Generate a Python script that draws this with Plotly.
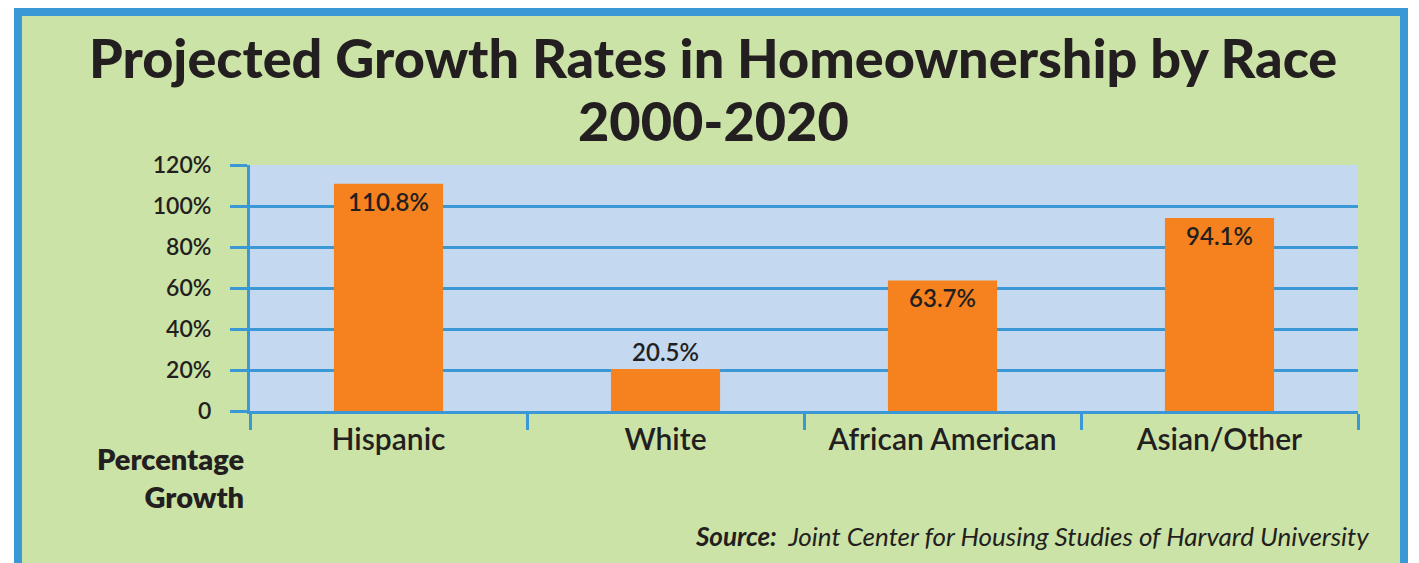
import plotly.graph_objects as go

# ---- data ----
categories = ["Hispanic", "White", "African American", "Asian/Other"]
growth = [110.8, 20.5, 63.7, 94.1]
value_labels = ["110.8%", "20.5%", "63.7%", "94.1%"]
label_positions = ["inside", "outside", "inside", "inside"]
y_tick_values = [0, 20, 40, 60, 80, 100, 120]
y_tick_labels = ["0", "20%", "40%", "60%", "80%", "100%", "120%"]

# ---- layout geometry (pixels) ----
W, H = 1419, 563
L, R, T, B = 250, 1358, 165, 411

BLUE = "#3A98D6"
GREEN = "#CCE3A7"
PLOT_BG = "#C4D8EF"
ORANGE = "#F5821F"
TEXT = "#231F20"
FONT = "Lato"


def px_x(px):
    return (px - L) / (R - L)


def px_y(py):
    return (B - py) / (B - T)


fig = go.Figure()
fig.add_trace(go.Bar(
    x=categories,
    y=growth,
    text=value_labels,
    textposition=label_positions,
    insidetextanchor="end",
    textfont=dict(family=FONT, size=24, color=TEXT, weight=600),
    marker=dict(color=ORANGE, line=dict(width=0)),
    cliponaxis=False,
    hoverinfo="skip",
))

shapes = [
    dict(type="rect", xref="paper", yref="paper", layer="below",
         x0=px_x(14), x1=px_x(1408), y0=px_y(620), y1=px_y(8),
         fillcolor=BLUE, line=dict(width=0)),
    dict(type="rect", xref="paper", yref="paper", layer="below",
         x0=px_x(22), x1=px_x(1400), y0=px_y(620), y1=px_y(16),
         fillcolor=GREEN, line=dict(width=0)),
    dict(type="rect", xref="paper", yref="paper", layer="below",
         x0=0, x1=1, y0=0, y1=1,
         fillcolor=PLOT_BG, line=dict(width=0)),
]

annotations = [
    dict(text="Projected Growth Rates in Homeownership by Race",
         xref="paper", yref="paper", x=px_x(713), y=px_y(58),
         xanchor="center", yanchor="middle", showarrow=False,
         font=dict(family=FONT, size=54, color=TEXT, weight=900)),
    dict(text="2000-2020",
         xref="paper", yref="paper", x=px_x(713), y=px_y(120),
         xanchor="center", yanchor="middle", showarrow=False,
         font=dict(family=FONT, size=54, color=TEXT, weight=900)),
    dict(text="Percentage<br>Growth",
         xref="paper", yref="paper", x=px_x(246), y=px_y(477),
         xanchor="right", yanchor="middle", align="right", showarrow=False,
         font=dict(family=FONT, size=29, color=TEXT, weight=800)),
    dict(text="<b>Source:</b>  Joint Center for Housing Studies of Harvard University",
         xref="paper", yref="paper", x=px_x(1371), y=px_y(536),
         xanchor="right", yanchor="middle", showarrow=False,
         font=dict(family=FONT, size=26, color=TEXT, style="italic")),
]

fig.update_layout(
    width=W, height=H,
    margin=dict(l=L, r=W - R, t=T, b=H - B, pad=0),
    paper_bgcolor="white",
    plot_bgcolor="rgba(0,0,0,0)",
    showlegend=False,
    bargap=0.606,
    shapes=shapes,
    annotations=annotations,
    xaxis=dict(
        type="category",
        tickson="boundaries",
        ticks="outside", ticklen=16, tickwidth=3, tickcolor=BLUE,
        showline=True, linewidth=3, linecolor=BLUE,
        showgrid=False, zeroline=False,
        tickfont=dict(family=FONT, size=30, color=TEXT, weight=600),
        automargin=False, fixedrange=True,
    ),
    yaxis=dict(
        range=[0, 120],
        tickvals=y_tick_values, ticktext=y_tick_labels,
        ticks="outside", ticklen=17, tickwidth=3, tickcolor=BLUE,
        showline=True, linewidth=3, linecolor=BLUE,
        showgrid=True, gridcolor=BLUE, gridwidth=2.5,
        zeroline=False,
        tickfont=dict(family=FONT, size=23, color=TEXT, weight=600),
        ticklabelstandoff=14,
        automargin=False, fixedrange=True,
    ),
)

fig.write_html("out.html", config={"displayModeBar": False})
